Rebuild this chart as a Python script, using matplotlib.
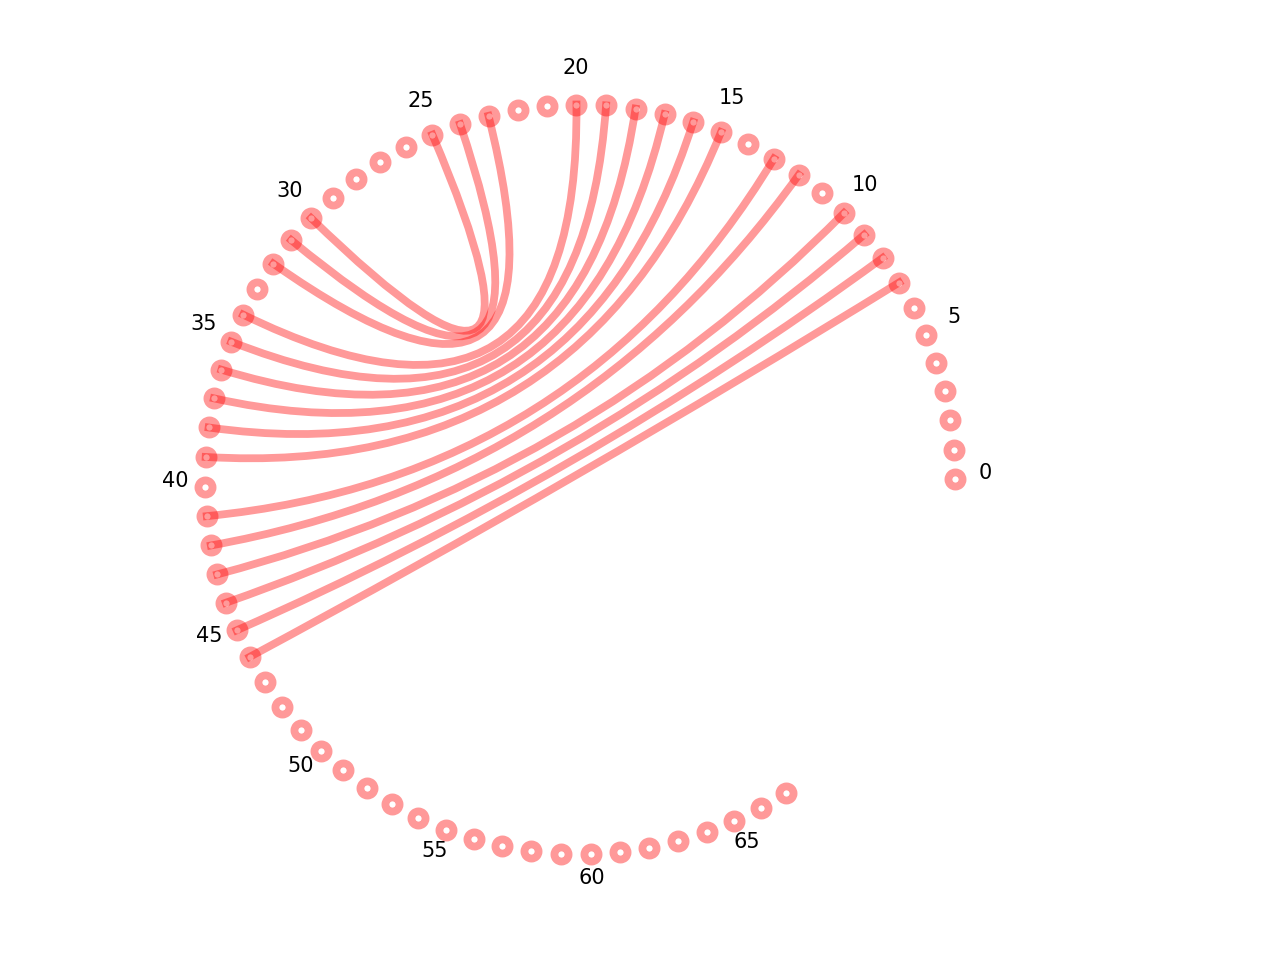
import numpy as np
import matplotlib
matplotlib.use("Agg")
import matplotlib.pyplot as plt
from matplotlib.path import Path
from matplotlib.patches import PathPatch

# nodes placed around an open circle, 0..67
n_nodes = 68
step_deg = 4.527
label_every = 5

# chords between node pairs
src = [7, 8, 9, 10, 12, 13, 15, 16, 17, 18, 19, 20, 23, 24, 25]
dst = [46, 45, 44, 43, 42, 41, 39, 38, 37, 36, 35, 34, 32, 31, 30]

color = "red"
alpha = 0.4

theta = np.deg2rad(np.arange(n_nodes) * step_deg)
xs = np.cos(theta)
ys = np.sin(theta)

fig = plt.figure(figsize=(12.8, 9.6), dpi=100)
ax = fig.add_axes([0, 0, 1, 1])

# nodes: thick translucent ring with white centre
ax.plot(xs, ys, linestyle="none", marker="o", markersize=10.2,
        markeredgewidth=5.6, color=color, markerfacecolor="white",
        alpha=alpha, zorder=1)

# chords as quadratic bezier curves bent through the centre
for a, b in zip(src, dst):
    verts = [(xs[a], ys[a]), (0.0, 0.0), (xs[b], ys[b])]
    path = Path(verts, [Path.MOVETO, Path.CURVE3, Path.CURVE3])
    patch = PathPatch(path, facecolor="none", edgecolor=color, alpha=alpha,
                      linewidth=5.6, capstyle="projecting", zorder=2)
    ax.add_patch(patch)

# index labels
for i in range(0, n_nodes, label_every):
    r = 1.08
    ax.text(r * np.cos(theta[i]), r * np.sin(theta[i]) + 0.017, str(i),
            ha="center", va="center", fontsize=15)

ax.set_xlim(-580 / 375, 700 / 375)
ax.set_ylim(-480.5 / 375, 479.5 / 375)
ax.axis("off")

fig.savefig("out.png", dpi=100)
